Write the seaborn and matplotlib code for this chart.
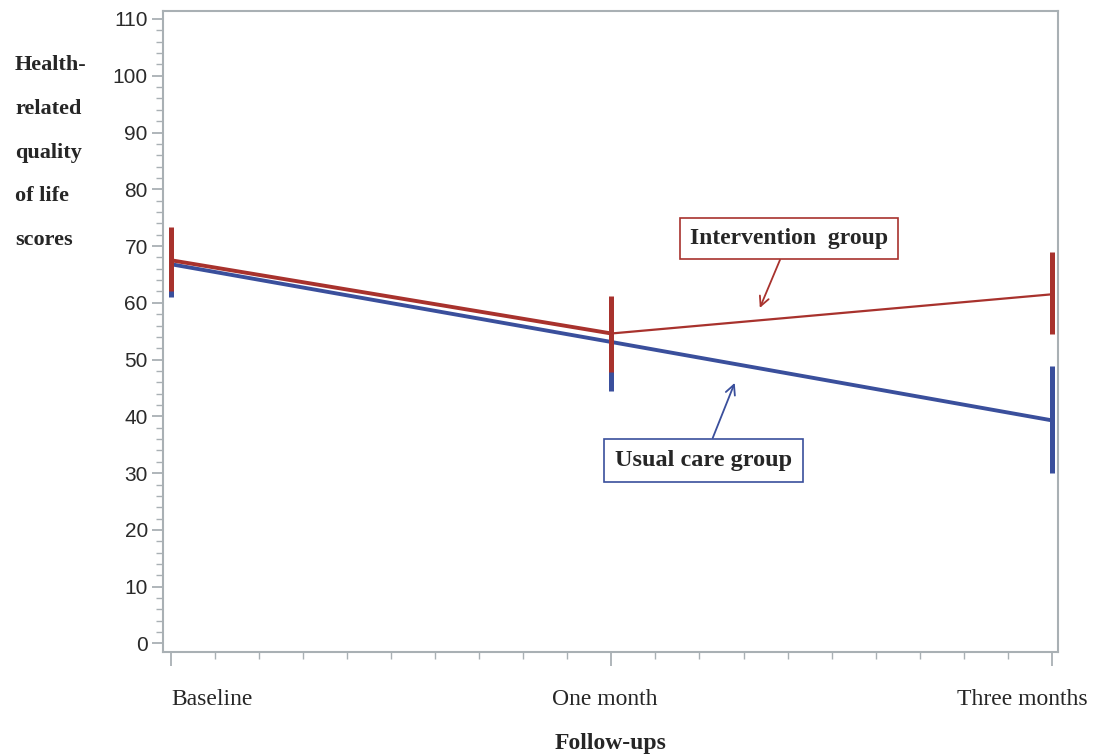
import numpy as np
import pandas as pd
import matplotlib
matplotlib.use("Agg")
import matplotlib.pyplot as plt
import matplotlib.transforms as mtrans
import seaborn as sns
from matplotlib.ticker import MultipleLocator

# data
visits = ["Baseline", "One month", "Three months"]
interv_mean = [67.5, 54.6, 61.5]
interv_low = [62.1, 47.9, 54.5]
interv_high = [73.3, 61.2, 69.0]
usual_mean = [66.8, 53.1, 39.3]
usual_low = [61.0, 44.4, 30.0]
usual_high = [72.5, 61.0, 48.9]

red = "#a8322d"
blue = "#3a4f9c"
grey = "#a9b0b4"

sns.set_style("white")
plt.rcParams['font.family'] = ['Liberation Serif', 'DejaVu Serif']

x = np.arange(len(visits))
df_i = pd.DataFrame({"x": x, "score": interv_mean})
df_u = pd.DataFrame({"x": x, "score": usual_mean})

fig = plt.figure(figsize=(10.95, 7.54), dpi=100)
ax = fig.add_axes([0.1489, 0.1353, 0.8173, 0.8501])

# usual care underneath
ax.vlines(x, usual_low, usual_high, color=blue, lw=3.6, zorder=2)
sns.lineplot(data=df_u, x="x", y="score", color=blue, lw=2.8, ax=ax, zorder=3)

ax.vlines(x, interv_low, interv_high, color=red, lw=3.6, zorder=4)
sns.lineplot(data=df_i.iloc[:2], x="x", y="score", color=red, lw=2.8, ax=ax, zorder=5)
sns.lineplot(data=df_i.iloc[1:], x="x", y="score", color=red, lw=1.6, ax=ax, zorder=5)

ax.set_xlim(-0.018, 2.014)
ax.set_ylim(-1.5, 111.4)
ax.yaxis.set_major_locator(MultipleLocator(10))
ax.yaxis.set_minor_locator(MultipleLocator(2))
ax.set_xticks(x)
ax.xaxis.set_minor_locator(MultipleLocator(0.1))

for s in ax.spines.values():
    s.set_color(grey)
    s.set_linewidth(1.5)

ax.tick_params(axis="y", which="major", direction="out", length=8, width=1.3, left=True,
               color=grey, labelsize=15, labelcolor="#2a2a2a", pad=3)
ax.tick_params(axis="y", which="minor", direction="out", length=5, width=1.0, color=grey, left=True)
ax.tick_params(axis="x", which="major", direction="out", length=10, width=1.3, bottom=True,
               color=grey, labelsize=17, pad=17)
ax.tick_params(axis="x", which="minor", direction="out", length=5, width=1.0, color=grey, bottom=True)
for lab in ax.get_yticklabels():
    lab.set_family(['Liberation Sans', 'DejaVu Sans'])
ax.set_xticklabels(visits)
# label placement as in the original
xl = ax.get_xticklabels()
xl[0].set_ha("left")
xl[1].set_transform(xl[1].get_transform() + mtrans.ScaledTranslation(-0.07, 0, fig.dpi_scale_trans))
xl[2].set_ha("right")
xl[2].set_transform(xl[2].get_transform() + mtrans.ScaledTranslation(0.36, 0, fig.dpi_scale_trans))
ax.set_xlabel("Follow-ups", fontsize=17, fontweight="bold", labelpad=16)
ax.set_ylabel("")

fig.text(0.0137, 0.927, "Health-\n\nrelated\n\nquality\n\nof life\n\nscores", fontsize=16,
         fontweight="bold", va="top", ha="left", linespacing=1.125)

ax.annotate("Intervention  group", xy=(1.337, 59.1), xytext=(1.403, 71.3),
            fontsize=17, fontweight="bold", ha="center", va="center",
            bbox=dict(boxstyle="square,pad=0.42", fc="white", ec=red, lw=1.2),
            arrowprops=dict(arrowstyle="->", color=red, lw=1.3, shrinkA=0, shrinkB=0))
ax.annotate("Usual care group", xy=(1.28, 45.9), xytext=(1.21, 32.3),
            fontsize=17.5, fontweight="bold", ha="center", va="center",
            bbox=dict(boxstyle="square,pad=0.45", fc="white", ec=blue, lw=1.2),
            arrowprops=dict(arrowstyle="->", color=blue, lw=1.3, shrinkA=0, shrinkB=0))

fig.savefig("out.png", dpi=100)
